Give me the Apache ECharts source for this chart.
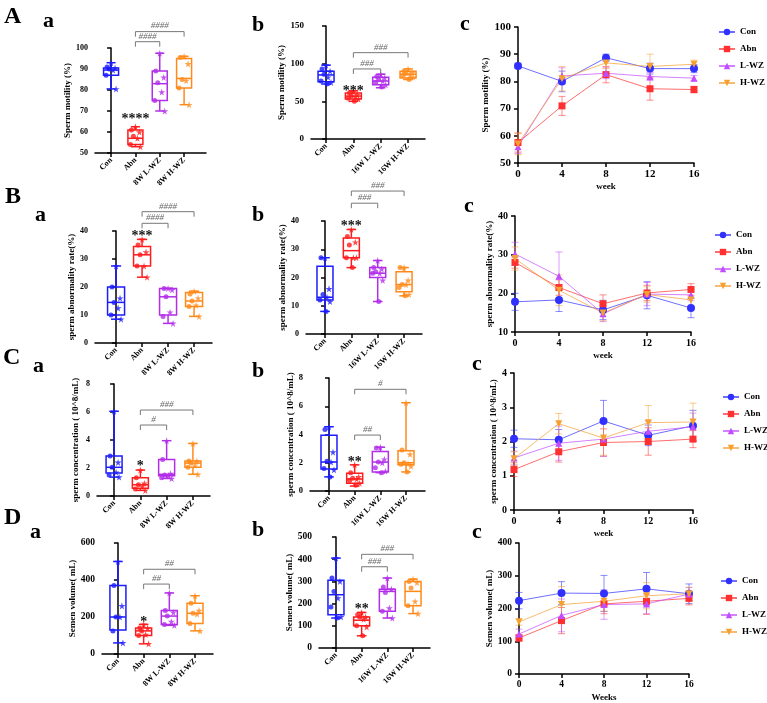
<!DOCTYPE html>
<html><head><meta charset="utf-8">
<script src="https://cdn.jsdelivr.net/npm/echarts@6/dist/echarts.min.js"></script>
<style>html,body{margin:0;padding:0;background:#fff}#c{width:767px;height:703px}</style>
</head><body><div id="c"></div>
<script>
// ---------- categories / ticks ----------
const groups = ['Con','Abn','L-WZ','H-WZ'];
const weeks = [0,4,8,12,16];
const cats8 = ['Con','Abn','8W L-WZ','8W H-WZ'];
const cats16 = ['Con','Abn','16W L-WZ','16W H-WZ'];

// ---------- A: sperm motility ----------
const Aa_box = [[80.5,87,89.5,90.5,93],[53,54,57,61,62.5],[70,75,83,89,97.5],[73,81,85.5,95,96]];
const Aa_pts = [[93,91,90.5,90,89.5,87,80.5],[62.5,61,60,58,57,54,53],[97.5,89,86,83.5,79,75,70],[96,95.5,92.5,85,84.5,81,73]];
const Aa_brackets = [[1,2,103,'####'],[1,3,107.8,'####']];
const Aa_stars = [[1,67.8,'****']];

const Ab_box = [[73,76,85,90,98],[50,53,57,61,64],[68,72,77,82,86],[79,81,86,90,93]];
const Ab_pts = [[98,93,90,86,82,77,75,73],[63,61,59,57,56,54,53,50],[86,83,81,79,77,75,72,69],[93,90,88,87,85,84,82,79]];
const Ab_brackets = [[1,2,93,'###'],[1,3,114.6,'###']];
const Ab_stars = [[1,68,'***']];

const Ac_mean = [[85.7,80,88.7,84.7,84.7],[57.5,71,82.5,77.3,77],[56,82,83,81.8,81.2],[57,81,86.8,85.5,86.3]];
const Ac_sd = [[1,3.8,1.3,2,1.5],[3.5,3.5,3,4.2,1.2],[2.5,3,2,1.5,1],[4,4.5,2,4.5,1.5]];

// ---------- B: sperm abnormality ----------
const Ba_box = [[8.5,10,14.5,20,27.5],[23.5,27.5,31.5,34.5,37],[7,10,16.5,19.5,19.5],[9.5,13,15,18,18.5]];
const Ba_pts = [[27.5,20,16,14.5,12.5,10,8.5],[37,35,32.5,31.5,27.5,27.5,23.5],[19.5,19.5,19,16.5,11,9.5,7],[18.5,17.5,16,15,13.5,13,9.5]];
const Ba_brackets = [[1,2,42.75,'####'],[1,3,46.9,'####']];
const Ba_stars = [[1,39.4,'***']];

const Bb_box = [[8,12,13,24,27],[23.5,27,29.5,34,37],[11.5,20,21.5,23.5,26],[13.5,15,17.5,22,23.5]];
const Bb_pts = [[27,27,16,14,13,12,11.5,8],[37,34.5,32.5,31.5,27,27,27,23.5],[26,23.5,23,22,21.5,21.5,19,11.5],[23.5,23.5,19,17.5,17.5,16.5,14,13.5]];
const Bb_brackets = [[1,2,46.3,'###'],[1,3,50.6,'###']];
const Bb_stars = [[1,39.5,'***']];

const Bc_mean = [[17.8,18.3,15.7,19.5,16.2],[28,21.5,17.3,20.1,21],[30.2,24.4,14.7,19.8,19.6],[29,20.8,14.9,19.7,18.3]];
const Bc_sd = [[2.2,3,2.5,3.5,2.5],[1.5,2,2.3,2,1.5],[3,6.3,2,3,1.5],[3,4,2,2,2]];

// ---------- C: sperm concentration ----------
const Ca_box = [[1.35,1.65,2.05,2.85,6.05],[0.4,0.55,0.8,1.3,1.85],[1.25,1.45,1.55,2.6,3.95],[1.55,2.05,2.35,2.5,3.75]];
const Ca_pts = [[6.05,2.85,2.4,2.05,1.7,1.5,1.35],[1.85,1.3,0.9,0.8,0.7,0.5,0.4],[3.95,2.6,1.6,1.5,1.45,1.3,1.25],[3.75,2.5,2.5,2.35,2.2,2.05,1.55]];
const Ca_brackets = [[1,2,5.07,'#'],[1,3,6.14,'###']];
const Ca_stars = [[1,2.4,'*']];

const Cb_box = [[1.0,1.55,2.05,3.95,4.55],[0.35,0.55,0.85,1.25,1.85],[1.3,1.35,2.05,2.8,3.1],[1.35,1.85,2.0,2.85,6.25]];
const Cb_pts = [[4.55,4.35,2.75,2.1,2.05,1.6,1.5,1.0],[1.85,1.3,1.0,0.9,0.85,0.75,0.55,0.4],[3.1,3.05,2.25,2.05,2.0,1.65,1.4,1.3],[6.25,2.9,2.6,2.0,1.95,1.9,1.75,1.35]];
const Cb_brackets = [[1,2,3.96,'##'],[1,3,7.2,'#']];
const Cb_stars = [[1,2.3,'**']];

const Cc_mean = [[2.08,2.05,2.6,2.18,2.46],[1.18,1.7,1.97,2.0,2.07],[1.52,1.95,2.07,2.3,2.43],[1.5,2.52,2.1,2.55,2.57]];
const Cc_sd = [[0.25,0.3,0.6,0.3,0.45],[0.2,0.3,0.4,0.4,0.25],[0.2,0.5,0.5,0.3,0.4],[0.2,0.3,0.5,0.5,0.55]];

// ---------- D: semen volume ----------
const Da_box = [[60,130,200,370,500],[55,100,125,140,160],[155,160,205,235,330],[125,165,220,275,315]];
const Da_pts = [[500,370,260,200,200,125,60],[160,140,140,125,105,100,55],[330,235,225,205,175,160,155],[315,275,235,220,215,165,125]];
const Da_brackets = [[1,2,378,'##'],[1,3,458,'##']];
const Da_stars = [[1,193,'*']];

const Db_box = [[135,150,240,305,405],[55,100,125,140,160],[135,165,255,265,315],[155,190,255,300,310]];
const Db_pts = [[405,315,300,255,225,185,140,135],[160,150,140,140,130,100,95,55],[315,275,265,250,180,165,135],[310,300,295,270,210,190,155]];
const Db_brackets = [[1,2,366,'###'],[1,3,422,'###']];
const Db_stars = [[1,194,'**']];

const Dc_mean = [[224,247,246,260,245],[110,163,214,222,231],[122,179,212,214,244],[159,212,222,239,245]];
const Dc_sd = [[25,35,55,50,30],[10,40,30,40,20],[15,50,45,30,20],[10,55,30,40,20]];

// ---------- styling ----------
const FONT = '"Liberation Serif", "DejaVu Serif", serif';
const BOX_COLORS = ['#1c1cff','#ff1c1c','#b22ee8','#ff8a1a'];
const LINE_COLORS = ['#3030ff','#ff3030','#c24cff','#f5a030'];
const LINE_SYMBOLS = ['circle','rect','triangle','triangle'];
const LINE_ROT = [0,0,0,180];
const STAR = 'path://M50,0 L61,35 98,35 68,57 79,91 50,70 21,91 32,57 2,35 39,35 Z';
const JITTER = [0,-4,4,-2,2,-5,5,1];

const boxPanels = [
  {box:Aa_box, pts:Aa_pts, br:Aa_brackets, st:Aa_stars, cats:cats8, g:[95,48,111,105], xr:[-0.66,3.9], yr:[50,100,10], name:'Sperm motility (%)', gap:18, fs:8, hw:7.5},
  {box:Ab_box, pts:Ab_pts, br:Ab_brackets, st:Ab_stars, cats:cats16, g:[311,26,114,113], xr:[-0.55,3.62], yr:[0,150,50], name:'Sperm motility (%)', gap:18, fs:9, hw:8},
  {box:Ba_box, pts:Ba_pts, br:Ba_brackets, st:Ba_stars, cats:cats8, g:[95,231,117,112], xr:[-0.81,3.69], yr:[0,40,10], name:'sperm abnormality rate(%)', gap:18, fs:8, hw:8.5},
  {box:Bb_box, pts:Bb_pts, br:Bb_brackets, st:Bb_stars, cats:cats16, g:[306,221,116,113], xr:[-0.72,3.68], yr:[0,40,10], name:'sperm abnormality rate(%)', gap:14, fs:8, hw:8},
  {box:Ca_box, pts:Ca_pts, br:Ca_brackets, st:Ca_stars, cats:cats8, g:[97,384,113,112], xr:[-0.65,3.65], yr:[0,8,2], name:'sperm concentration ( 10^8/mL)', gap:17, fs:8, hw:8},
  {box:Cb_box, pts:Cb_pts, br:Cb_brackets, st:Cb_stars, cats:cats16, g:[310,378,115,113], xr:[-0.74,3.74], yr:[0,8,2], name:'sperm concentration ( 10^8/mL)', gap:13, fs:8.5, hw:8},
  {box:Da_box, pts:Da_pts, br:Da_brackets, st:Da_stars, cats:cats8, g:[102,543,111,111], xr:[-0.62,3.7], yr:[0,600,200], name:'Semen volume( mL)', gap:21, fs:9.5, hw:8},
  {box:Db_box, pts:Db_pts, br:Db_brackets, st:Db_stars, cats:cats16, g:[319,537,111,111], xr:[-0.66,3.66], yr:[0,500,100], name:'Semen volume( mL)', gap:22, fs:9.5, hw:8}
];
const linePanels = [
  {mean:Ac_mean, sd:Ac_sd, g:[518,27,176,136], yr:[50,100,10], name:'Sperm motility (%)', gap:17, xname:'week', fs:11, lg:[718,26]},
  {mean:Bc_mean, sd:Bc_sd, g:[515,216,176,116], yr:[10,40,10], name:'sperm abnormality rate(%)', gap:15, xname:'week', fs:10, lg:[714,229]},
  {mean:Cc_mean, sd:Cc_sd, g:[514,373,179,137], yr:[0,4,1], name:'sperm concentration ( 10^8/mL)', gap:13, xname:'week', fs:10, lg:[722,391]},
  {mean:Dc_mean, sd:Dc_sd, g:[519,543,170,131], yr:[0,400,100], name:'Semen volume( mL)', gap:19, xname:'Weeks', fs:9.5, lg:[720,575]}
];

const axisLine = {show:true, lineStyle:{color:'#000', width:1.5}};
const axisTick = {show:true, length:4, lineStyle:{color:'#000', width:1.5}};

const grids = [], xAxes = [], yAxes = [], series = [], legends = [];

function boxRender(hw){
  return function(params, api){
    const x = api.value(0);
    const c = BOX_COLORS[params.dataIndex];
    const p = [1,2,3,4,5].map(i => api.coord([x, api.value(i)]));
    const cx = p[0][0], cap = hw*0.6;
    const st = {stroke:c, lineWidth:1.5, fill:'none'};
    return {type:'group', children:[
      {type:'rect', shape:{x:cx-hw, y:p[3][1], width:2*hw, height:p[1][1]-p[3][1]}, style:st},
      {type:'line', shape:{x1:cx-hw, y1:p[2][1], x2:cx+hw, y2:p[2][1]}, style:st},
      {type:'line', shape:{x1:cx, y1:p[3][1], x2:cx, y2:p[4][1]}, style:st},
      {type:'line', shape:{x1:cx, y1:p[1][1], x2:cx, y2:p[0][1]}, style:st},
      {type:'line', shape:{x1:cx-cap, y1:p[4][1], x2:cx+cap, y2:p[4][1]}, style:st},
      {type:'line', shape:{x1:cx-cap, y1:p[0][1], x2:cx+cap, y2:p[0][1]}, style:st}
    ]};
  };
}
function bracketRender(list){
  return function(params, api){
    const it = list[params.dataIndex];
    const a = api.coord([it[0], it[2]]), b = api.coord([it[1], it[2]]);
    return {type:'group', children:[
      {type:'polyline', shape:{points:[[a[0],a[1]+5],[a[0],a[1]],[b[0],b[1]],[b[0],b[1]+5]]}, style:{stroke:'#777', lineWidth:1, fill:'none'}},
      {type:'text', x:(a[0]+b[0])/2, y:a[1]-1, style:{text:it[3], fill:'#666', font:'italic 9px ' + FONT, align:'center', verticalAlign:'bottom', textAlign:'center', textVerticalAlign:'bottom'}}
    ]};
  };
}
function starRender(list){
  return function(params, api){
    const it = list[params.dataIndex];
    const a = api.coord([it[0], it[1]]);
    return {type:'text', x:a[0], y:a[1]+4, style:{text:it[2], fill:'#111', font:'bold 14px ' + FONT, align:'center', verticalAlign:'middle', textAlign:'center', textVerticalAlign:'middle'}};
  };
}
function errRender(color){
  return function(params, api){
    const lo = api.coord([api.value(0), api.value(1)]);
    const hi = api.coord([api.value(0), api.value(2)]);
    const st = {stroke:color, lineWidth:1, opacity:0.55};
    return {type:'group', children:[
      {type:'line', shape:{x1:lo[0], y1:lo[1], x2:hi[0], y2:hi[1]}, style:st},
      {type:'line', shape:{x1:lo[0]-3.5, y1:lo[1], x2:lo[0]+3.5, y2:lo[1]}, style:st},
      {type:'line', shape:{x1:hi[0]-3.5, y1:hi[1], x2:hi[0]+3.5, y2:hi[1]}, style:st}
    ]};
  };
}

boxPanels.forEach((P, k) => {
  const idx = grids.length;
  grids.push({left:P.g[0], top:P.g[1], width:P.g[2], height:P.g[3]});
  const cats = P.cats;
  xAxes.push({gridIndex:idx, type:'value', min:P.xr[0], max:P.xr[1], splitLine:{show:false},
    axisLine, axisTick:{...axisTick, customValues:[0,1,2,3]},
    axisLabel:{customValues:[0,1,2,3], formatter:v => cats[Math.round(v)] || '', rotate:45, margin:6,
      color:'#000', fontWeight:'bold', fontFamily:FONT, fontSize:8}});
  yAxes.push({gridIndex:idx, type:'value', min:P.yr[0], max:P.yr[1], interval:P.yr[2], splitLine:{show:false},
    axisLine, axisTick, axisLabel:{color:'#000', fontWeight:'bold', fontFamily:FONT, fontSize:P.fs, margin:7},
    name:P.name, nameLocation:'middle', nameGap:P.gap,
    nameTextStyle:{color:'#000', fontWeight:'bold', fontFamily:FONT, fontSize:9}});
  series.push({type:'custom', xAxisIndex:idx, yAxisIndex:idx, clip:false, z:3,
    data:P.box.map((b,i) => [i, ...b]), encode:{x:0, y:[1,2,3,4,5]}, renderItem:boxRender(P.hw)});
  const pts = [];
  P.pts.forEach((arr, ci) => arr.forEach((v, j) => pts.push({
    value:[ci, v], symbol: j % 2 ? 'circle' : STAR, symbolSize: j % 2 ? 5 : 7,
    symbolOffset:[JITTER[j % JITTER.length], 0], itemStyle:{color:BOX_COLORS[ci]}})));
  series.push({type:'scatter', xAxisIndex:idx, yAxisIndex:idx, data:pts, z:4, silent:true});
  series.push({type:'custom', xAxisIndex:idx, yAxisIndex:idx, clip:false, z:5,
    data:P.br.map(b => [b[0], b[1], b[2]]), encode:{x:[0,1], y:2}, renderItem:bracketRender(P.br)});
  series.push({type:'custom', xAxisIndex:idx, yAxisIndex:idx, clip:false, z:5,
    data:P.st.map(s => [s[0], s[1]]), encode:{x:0, y:1}, renderItem:starRender(P.st)});
});

linePanels.forEach((P) => {
  const idx = grids.length;
  grids.push({left:P.g[0], top:P.g[1], width:P.g[2], height:P.g[3]});
  xAxes.push({gridIndex:idx, type:'value', min:0, max:16, interval:4, splitLine:{show:false},
    axisLine, axisTick, axisLabel:{color:'#000', fontWeight:'bold', fontFamily:FONT, fontSize:P.fs, margin:6},
    name:P.xname, nameLocation:'middle', nameGap:19,
    nameTextStyle:{color:'#000', fontWeight:'bold', fontFamily:FONT, fontSize:9}});
  yAxes.push({gridIndex:idx, type:'value', min:P.yr[0], max:P.yr[1], interval:P.yr[2], splitLine:{show:false},
    axisLine, axisTick, axisLabel:{color:'#000', fontWeight:'bold', fontFamily:FONT, fontSize:P.fs, margin:7},
    name:P.name, nameLocation:'middle', nameGap:P.gap,
    nameTextStyle:{color:'#000', fontWeight:'bold', fontFamily:FONT, fontSize:9}});
  groups.forEach((gname, gi) => {
    series.push({type:'line', name:gname, xAxisIndex:idx, yAxisIndex:idx, z:4,
      data:weeks.map((w, i) => [w, P.mean[gi][i]]),
      symbol:LINE_SYMBOLS[gi], symbolRotate:LINE_ROT[gi], symbolSize:gi === 0 ? 8 : 7,
      itemStyle:{color:LINE_COLORS[gi]}, lineStyle:{color:LINE_COLORS[gi], width:1, opacity:0.7}});
  });
  groups.forEach((gname, gi) => {
    series.push({type:'custom', xAxisIndex:idx, yAxisIndex:idx, clip:false, z:3,
      data:weeks.map((w, i) => [w, P.mean[gi][i] - P.sd[gi][i], P.mean[gi][i] + P.sd[gi][i]]),
      encode:{x:0, y:[1,2]}, renderItem:errRender(LINE_COLORS[gi])});
  });
  legends.push({data:groups, orient:'vertical', left:P.lg[0], top:P.lg[1], padding:0, itemWidth:16, itemHeight:8, itemGap:5,
    selectedMode:false, textStyle:{color:'#000', fontWeight:'bold', fontFamily:FONT, fontSize:9, lineHeight:12}});
});

const LETTER = (t, x, y, size) => ({type:'text', x, y, style:{text:t, fill:'#000', font:'bold ' + size + 'px ' + FONT, textVerticalAlign:'middle', verticalAlign:'middle'}});
const graphics = [
  LETTER('A',4,17,24), LETTER('a',43,21,22), LETTER('b',252,25,22), LETTER('c',460,24,22),
  LETTER('B',5,197,24), LETTER('a',35,215,22), LETTER('b',252,215,22), LETTER('c',464,206,22),
  LETTER('C',3,358,24), LETTER('a',33,366,22), LETTER('b',252,371,22), LETTER('c',472,364,22),
  LETTER('D',4,518,24), LETTER('a',30,532,22), LETTER('b',252,530,22), LETTER('c',472,532,22)
];

const chart = echarts.init(document.getElementById('c'), null, {renderer:'canvas'});
chart.setOption({
  animation:false, backgroundColor:'#fff',
  grid:grids, xAxis:xAxes, yAxis:yAxes, series, legend:legends, graphic:graphics
});
</script>
</body></html>
